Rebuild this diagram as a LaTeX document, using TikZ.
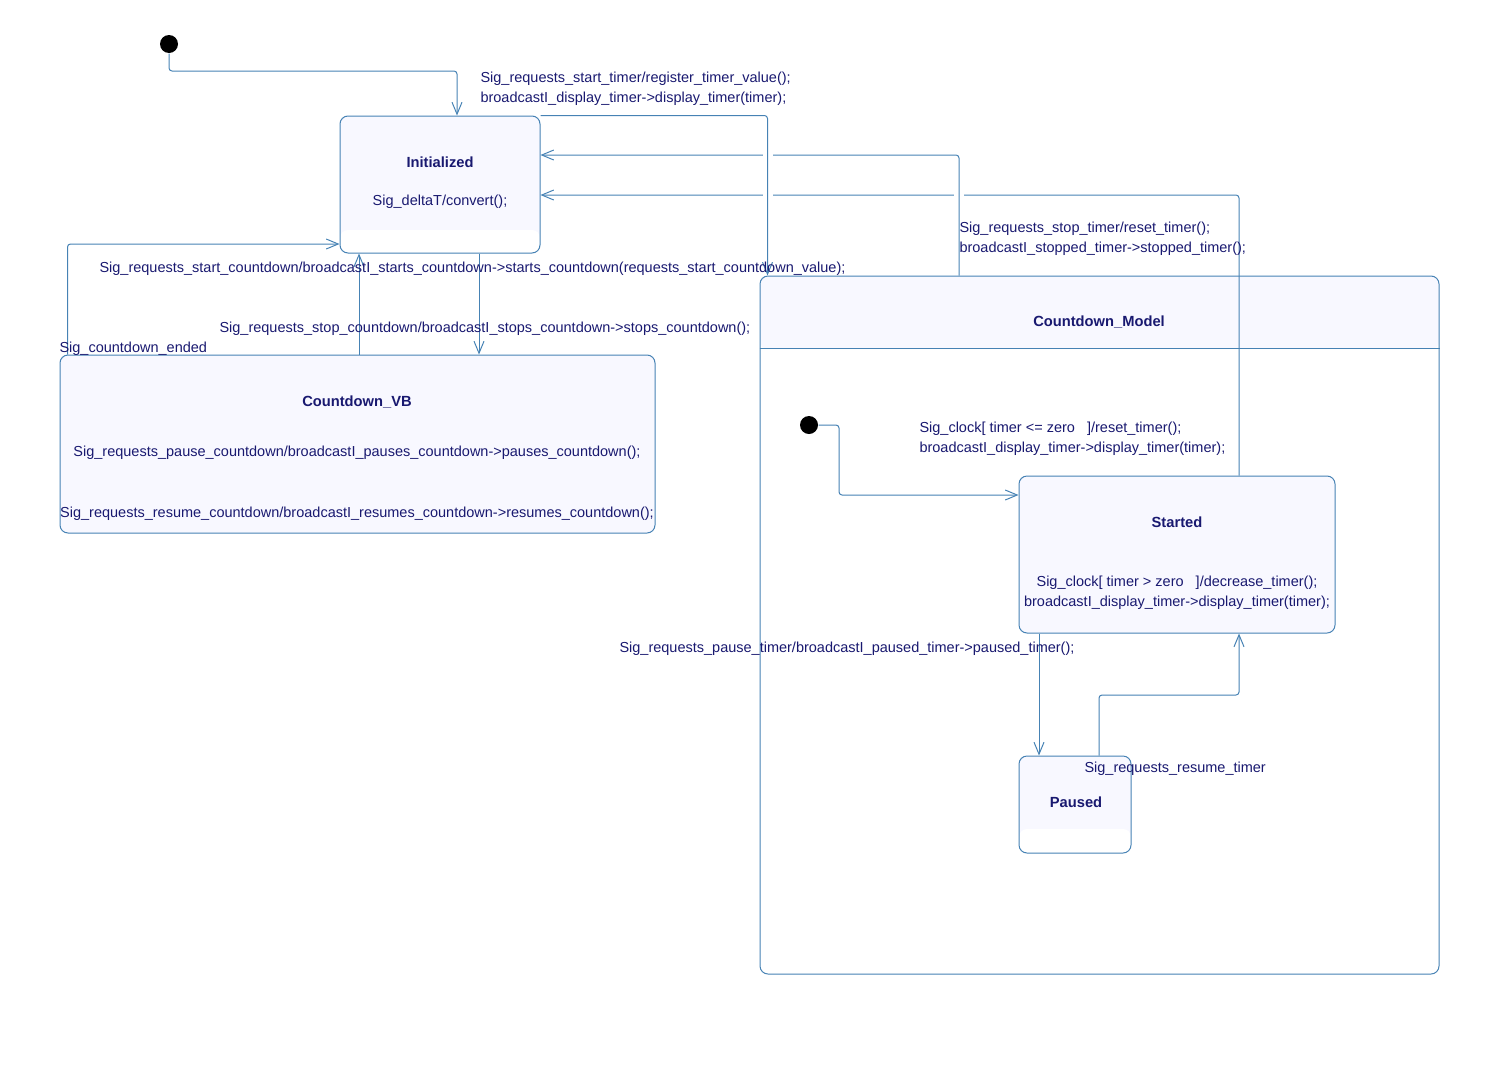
\documentclass[tikz,border=0pt]{standalone}
\usepackage{fontspec}
\setmainfont{Liberation Sans}
\usetikzlibrary{arrows.meta}

\definecolor{edgeblue}{RGB}{70,130,180}
\definecolor{textnavy}{RGB}{25,25,112}
\definecolor{statefill}{RGB}{248,248,255}

\tikzset{every picture/.style={line width=1pt}}

\begin{document}
\begin{tikzpicture}[x=1pt,y=1pt,yscale=-1,xscale=1,
    statebox/.style={draw=edgeblue,fill=statefill,rounded corners=8pt,inner sep=0pt},
    whitefoot/.style={path picture={\fill[white] ([yshift=#1]path picture bounding box.south west) rectangle (path picture bounding box.south east);}},
    txt/.style={text=textnavy,inner sep=0pt,font=\fontsize{14.5}{20}\selectfont},
    title/.style={text=textnavy,inner sep=0pt,font=\fontsize{14.7}{20}\selectfont\bfseries},
    trans/.style={draw=edgeblue,rounded corners=3pt,-{Straight Barb[length=12pt,width=10pt]}},
    initdot/.style={circle,fill=black,minimum size=18pt,inner sep=0pt},
    linegap/.style={fill=white}]
\useasboundingbox (0,0) rectangle (1488,1074);

% States
\node[statebox,whitefoot=23pt,minimum width=200pt,minimum height=137pt] (init) at (440,184.5) {};
\node[statebox,minimum width=595pt,minimum height=178pt] (vb) at (357.5,444) {};
\node[statebox,fill=white,minimum width=679pt,minimum height=698pt,
      path picture={\fill[statefill] (path picture bounding box.north west) rectangle ([yshift=-73pt]path picture bounding box.north east);}] (model) at (1099.5,625) {};
\draw[edgeblue] ([yshift=73pt]model.north west) -- ([yshift=73pt]model.north east);
\node[statebox,minimum width=316pt,minimum height=157pt] (started) at (1177,554.5) {};
\node[statebox,whitefoot=24pt,minimum width=112pt,minimum height=97pt] (paused) at (1075,804.5) {};

% Initial states
\node[initdot] (start1) at (169,44) {};
\node[initdot] (start2) at (809,425) {};

% Connection
\draw[trans] (start1) |- (457,71) -- (init.north -| 457,0);
% Connection
\draw[trans] (started.north -| 1239,0) |- (init.east |- 0,195);
\fill[linegap] (954,193) rectangle (964,197);
% Connection
\draw[trans] (model.north -| 959,0) |- (init.east |- 0,155);
\fill[linegap] (763,153) rectangle (773,157);
\fill[linegap] (763,193) rectangle (773,197);
% Connection
\draw[trans] (init.north east) -| ([xshift=8pt]model.north west);
% Connection
\draw[trans] ([xshift=8pt]vb.north west) |- (init.west |- 0,244);
% Connection
\draw[trans] (vb.north -| 359,0) -- (init.south -| 359,0);
% Connection
\draw[trans] (init.south -| 479,0) -- (vb.north -| 479,0);
% Connection
\draw[trans] (start2) -| (839,495) -- (started.west |- 0,495);
% Connection
\draw[trans] (started.south -| 1039,0) -- (paused.north -| 1039,0);
% Connection
\draw[trans] (paused.north -| 1099,0) |- (1239,695) -- (started.south -| 1239,0);

% Text Node
\node[title] (initT) at (440,162) {Initialized};
\node[txt] (initA) at (440,202) {Sig\_deltaT/convert();};
% Text Node
\node[title] (vbT) at (357,402) {Countdown\_VB};
\node[txt] (vbA) at (357,453) {Sig\_requests\_pause\_countdown/broadcastI\_pauses\_countdown->pauses\_countdown();};
\node[txt] (vbB) at (357,514) {Sig\_requests\_resume\_countdown/broadcastI\_resumes\_countdown->resumes\_countdown();};
% Text Node
\node[title] (modelT) at (1099,322) {Countdown\_Model};
% Text Node
\node[title] (startedT) at (1177,522) {Started};
\node[txt,align=center] (startedA) at (1177,593) {Sig\_clock[ timer > zero~~~]/decrease\_timer();\\ broadcastI\_display\_timer->display\_timer(timer);};
% Text Node
\node[title] (pausedT) at (1076,802) {Paused};

% Text Node
\node[txt,anchor=west,align=left] (lblStartTimer) at (480,89) {Sig\_requests\_start\_timer/register\_timer\_value();\\ broadcastI\_display\_timer->display\_timer(timer);};
% Text Node
\node[txt,anchor=west,align=left] (lblStopTimer) at (959,239) {Sig\_requests\_stop\_timer/reset\_timer();\\ broadcastI\_stopped\_timer->stopped\_timer();};
% Text Node
\node[txt,anchor=west] (lblStartCd) at (99,269) {Sig\_requests\_start\_countdown/broadcastI\_starts\_countdown->starts\_countdown(requests\_start\_countdown\_value);};
% Text Node
\node[txt,anchor=west] (lblStopCd) at (219,329) {Sig\_requests\_stop\_countdown/broadcastI\_stops\_countdown->stops\_countdown();};
% Text Node
\node[txt,anchor=west] (lblEnded) at (59,349) {Sig\_countdown\_ended};
% Text Node
\node[txt,anchor=west,align=left] (lblClockZero) at (919,439) {Sig\_clock[ timer <= zero~~~]/reset\_timer();\\ broadcastI\_display\_timer->display\_timer(timer);};
% Text Node
\node[txt,anchor=west] (lblPauseTimer) at (619,649) {Sig\_requests\_pause\_timer/broadcastI\_paused\_timer->paused\_timer();};
% Text Node
\node[txt,anchor=west] (lblResume) at (1084,769) {Sig\_requests\_resume\_timer};

\end{tikzpicture}
\end{document}
